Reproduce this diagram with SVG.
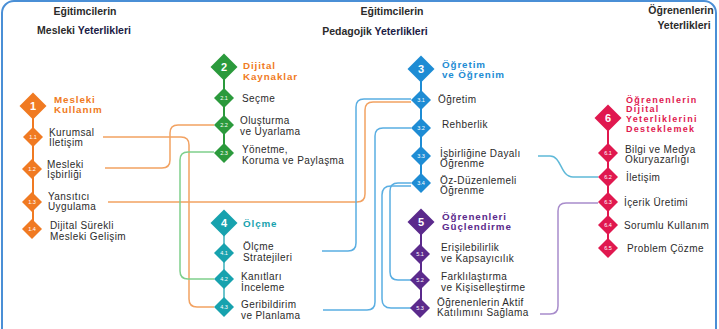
<svg xmlns="http://www.w3.org/2000/svg" xmlns:xlink="http://www.w3.org/1999/xlink" width="719" height="329" viewBox="0 0 719 329">
<style>
text{font-family:"Liberation Sans",Arial,sans-serif;}
.t{font-size:10px;letter-spacing:0.4px;fill:#2b2b2b;}
.h{font-size:10.5px;font-weight:bold;fill:#2b2b2b;text-anchor:middle;}
.lab{font-size:9.8px;font-weight:bold;letter-spacing:0.9px;}
.lab6{font-size:9px;font-weight:bold;letter-spacing:1.3px;}
.n{font-size:11px;font-weight:bold;fill:#fff;text-anchor:middle;}
.sn{font-size:5.5px;fill:#fff;text-anchor:middle;}
.or{fill:#f07a22;} .gr{fill:#2b9a3c;} .te{fill:#17a2ae;} .bl{fill:#1e8cd4;} .pu{fill:#5b2a8c;} .cr{fill:#e0184f;}
.chain{fill:none;stroke-width:2;}
.c{fill:none;stroke-width:1.5;}
.co{stroke:#f2a262;} .cb{stroke:#5aaee2;} .cg{stroke:#7fcf8c;} .cp{stroke:#a88ccb;} .ct{stroke:#5fb9d8;}
</style>
<defs>
<path id="dBig" d="M0,-13.5 L13.5,0 L0,13.5 L-13.5,0Z"/>
<path id="dSm" d="M0,-10 L10,0 L0,10 L-10,0Z"/>
</defs>
<rect x="0" y="0" width="719" height="329" fill="#fff"/>
<rect x="2" y="1" width="714" height="345" rx="12" fill="none" stroke="#4a8fd6" stroke-width="2"/>

<g id="headers">
<text class="h" x="85" y="15">Eğitimcilerin</text>
<text class="h" x="84" y="34">Mesleki <tspan fill="#1b1b45">Yeterlikleri</tspan></text>
<text class="h" x="392" y="15">Eğitimcilerin</text>
<text class="h" x="375" y="35">Pedagojik <tspan fill="#1b1b45">Yeterlikleri</tspan></text>
<text class="h" x="681" y="14">Öğrenenlerin</text>
<text class="h" x="684" y="29" fill="#1b1b45">Yeterlikleri</text>
</g>

<g id="connectors">
<path class="c co" d="M103,137 H181 Q189,137 189,145 V299 Q189,307 197,307 H214"/>
<path class="c co" d="M105,168 H162 Q170,168 170,160 V133 Q170,125 178,125 H214"/>
<path class="c co" d="M108,202 H357 Q365,202 365,194 V110 Q365,102 373,102 H411"/>
<path class="c cg" d="M214,152 H188 Q180,152 180,160 V271 Q180,279 188,279 H214"/>
<path class="c cb" d="M322,251 H348 Q356,251 356,243 V107 Q356,99 364,99 H411"/>
<path class="c cb" d="M323,310 H367 Q375,310 375,302 V136 Q375,128 383,128 H411"/>
<path class="c cb" d="M411,183 H398 Q390,183 390,191 V272 Q390,280 398,280 H411"/>
<path class="c cb" d="M411,186 H391 Q382,186 382,195 V299 Q382,308 391,308 H411"/>
<path class="c ct" d="M538,156 H550 C562,156 560,177 573,177 H598"/>
<path class="c cp" d="M540,314 H550 Q558,314 558,306 V211 Q558,203 566,203 H598"/>
</g>

<g id="chains">
<path class="chain" stroke="#f07a22" d="M33,106 V229"/>
<path class="chain" stroke="#2b9a3c" d="M224,67 V153"/>
<path class="chain" stroke="#6cc4cc" d="M224,223 V307"/>
<path class="chain" stroke="#1e8cd4" d="M421,69 V183"/>
<path class="chain" stroke="#5b2a8c" d="M421,222 V308"/>
<path class="chain" stroke="#e0184f" d="M608,118 V248"/>
</g>

<g id="node1">
<use href="#dBig" x="33" y="106" class="or"/><text class="n" x="33" y="110">1</text>
<text class="lab or" x="54" y="103">Mesleki<tspan x="54" dy="10">Kullanım</tspan></text>
</g>
<g id="node1-1"><use href="#dSm" x="33" y="137" class="or"/><text class="sn" x="33" y="139">1.1</text>
<text class="t" x="49" y="135.5">Kurumsal<tspan x="49" dy="10.5">İletişim</tspan></text></g>
<g id="node1-2"><use href="#dSm" x="32" y="169" class="or"/><text class="sn" x="32" y="171">1.2</text>
<text class="t" x="47" y="167.5">Mesleki<tspan x="47" dy="10.5">İşbirliği</tspan></text></g>
<g id="node1-3"><use href="#dSm" x="32" y="202" class="or"/><text class="sn" x="32" y="204">1.3</text>
<text class="t" x="48" y="199.5">Yansıtıcı<tspan x="48" dy="10.5">Uygulama</tspan></text></g>
<g id="node1-4"><use href="#dSm" x="32" y="229" class="or"/><text class="sn" x="32" y="231">1.4</text>
<text class="t" x="50" y="229">Dijital Sürekli<tspan x="50" dy="10.5">Mesleki Gelişim</tspan></text></g>

<g id="node2">
<use href="#dBig" x="224" y="67" class="gr"/><text class="n" x="224" y="71">2</text>
<text class="lab or" x="243" y="69">Dijital<tspan x="243" dy="10.5">Kaynaklar</tspan></text>
</g>
<g id="node2-1"><use href="#dSm" x="224" y="98" class="gr"/><text class="sn" x="224" y="100">2.1</text>
<text class="t" x="242" y="102">Seçme</text></g>
<g id="node2-2"><use href="#dSm" x="224" y="125" class="gr"/><text class="sn" x="224" y="127">2.2</text>
<text class="t" x="240" y="124">Oluşturma<tspan x="240" dy="11">ve Uyarlama</tspan></text></g>
<g id="node2-3"><use href="#dSm" x="224" y="153" class="gr"/><text class="sn" x="224" y="155">2.3</text>
<text class="t" x="242" y="153">Yönetme,<tspan x="242" dy="11">Koruma ve Paylaşma</tspan></text></g>

<g id="node4">
<use href="#dBig" x="224" y="223" class="te"/><text class="n" x="224" y="227">4</text>
<text class="lab te" x="243" y="227">Ölçme</text>
</g>
<g id="node4-1"><use href="#dSm" x="224" y="253" class="te"/><text class="sn" x="224" y="255">4.1</text>
<text class="t" x="243" y="250">Ölçme<tspan x="243" dy="11">Stratejileri</tspan></text></g>
<g id="node4-2"><use href="#dSm" x="224" y="279" class="te"/><text class="sn" x="224" y="281">4.2</text>
<text class="t" x="241" y="280">Kanıtları<tspan x="241" dy="10.5">İnceleme</tspan></text></g>
<g id="node4-3"><use href="#dSm" x="224" y="307" class="te"/><text class="sn" x="224" y="309">4.3</text>
<text class="t" x="241" y="308">Geribildirim<tspan x="241" dy="11">ve Planlama</tspan></text></g>

<g id="node3">
<use href="#dBig" x="421" y="69" class="bl"/><text class="n" x="421" y="73">3</text>
<text class="lab bl" x="442" y="67.5">Öğretim<tspan x="442" dy="10.5">ve Öğrenim</tspan></text>
</g>
<g id="node3-1"><use href="#dSm" x="421" y="100" class="bl"/><text class="sn" x="421" y="102">3.1</text>
<text class="t" x="438" y="103">Öğretim</text></g>
<g id="node3-2"><use href="#dSm" x="421" y="128" class="bl"/><text class="sn" x="421" y="130">3.2</text>
<text class="t" x="442" y="128">Rehberlik</text></g>
<g id="node3-3"><use href="#dSm" x="421" y="156" class="bl"/><text class="sn" x="421" y="158">3.3</text>
<text class="t" x="440" y="156.5">İşbirliğine Dayalı<tspan x="440" dy="10.5">Öğrenme</tspan></text></g>
<g id="node3-4"><use href="#dSm" x="421" y="183" class="bl"/><text class="sn" x="421" y="185">3.4</text>
<text class="t" x="440" y="183.5">Öz-Düzenlemeli<tspan x="440" dy="10.5">Öğrenme</tspan></text></g>

<g id="node5">
<use href="#dBig" x="421" y="222" class="pu"/><text class="n" x="421" y="226">5</text>
<text class="lab pu" x="442" y="219.5">Öğrenenleri<tspan x="442" dy="10.5">Güçlendirme</tspan></text>
</g>
<g id="node5-1"><use href="#dSm" x="420" y="254" class="pu"/><text class="sn" x="420" y="256">5.1</text>
<text class="t" x="441" y="251">Erişilebilirlik<tspan x="441" dy="11">ve Kapsayıcılık</tspan></text></g>
<g id="node5-2"><use href="#dSm" x="420" y="280" class="pu"/><text class="sn" x="420" y="282">5.2</text>
<text class="t" x="441" y="280">Farklılaştırma<tspan x="441" dy="11">ve Kişiselleştirme</tspan></text></g>
<g id="node5-3"><use href="#dSm" x="420" y="308" class="pu"/><text class="sn" x="420" y="310">5.3</text>
<text class="t" x="437" y="305.5">Öğrenenlerin Aktif<tspan x="437" dy="10.5">Katılımını Sağlama</tspan></text></g>

<g id="node6">
<use href="#dBig" x="608" y="118" class="cr"/><text class="n" x="608" y="122">6</text>
<text class="lab6 cr" x="626" y="102.5">Öğrenenlerin<tspan x="626" dy="9.8">Dijital</tspan><tspan x="626" dy="9.8">Yeterliklerini</tspan><tspan x="626" dy="9.8">Desteklemek</tspan></text>
</g>
<g id="node6-1"><use href="#dSm" x="608" y="153" class="cr"/><text class="sn" x="608" y="155">6.1</text>
<text class="t" x="625" y="152.5">Bilgi ve Medya<tspan x="625" dy="10.5">Okuryazarlığı</tspan></text></g>
<g id="node6-2"><use href="#dSm" x="608" y="177" class="cr"/><text class="sn" x="608" y="179">6.2</text>
<text class="t" x="626" y="181">İletişim</text></g>
<g id="node6-3"><use href="#dSm" x="608" y="202" class="cr"/><text class="sn" x="608" y="204">6.3</text>
<text class="t" x="624" y="206">İçerik Üretimi</text></g>
<g id="node6-4"><use href="#dSm" x="608" y="225" class="cr"/><text class="sn" x="608" y="227">6.4</text>
<text class="t" x="624" y="229">Sorumlu Kullanım</text></g>
<g id="node6-5"><use href="#dSm" x="608" y="248" class="cr"/><text class="sn" x="608" y="250">6.5</text>
<text class="t" x="627" y="252">Problem Çözme</text></g>
</svg>
